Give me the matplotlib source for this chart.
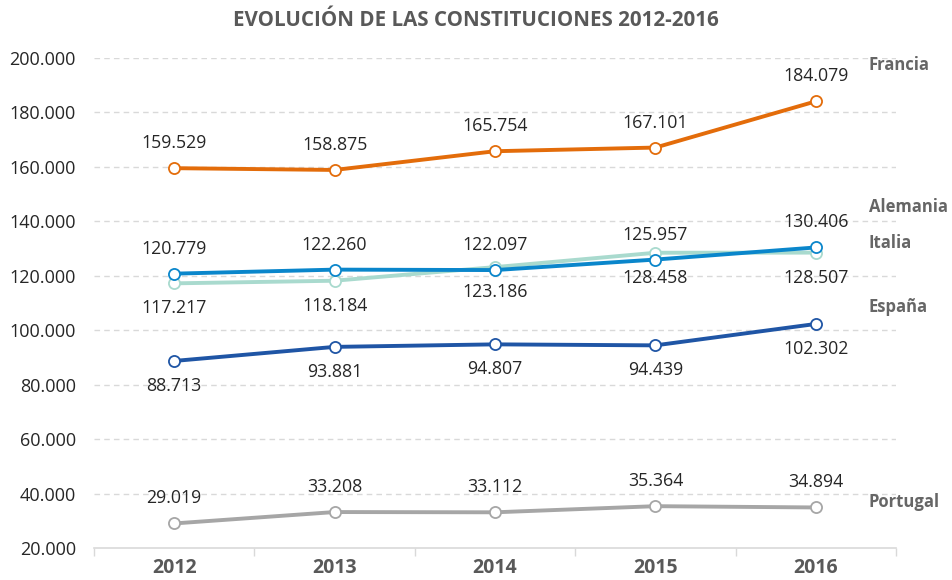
import matplotlib
matplotlib.use("Agg")
import matplotlib.pyplot as plt

plt.rcParams['font.family'] = ['Open Sans', 'DejaVu Sans']

# datos
years = ['2012', '2013', '2014', '2015', '2016']
francia = [159529, 158875, 165754, 167101, 184079]
alemania = [117217, 118184, 123186, 128458, 128507]
italia = [120779, 122260, 122097, 125957, 130406]
espana = [88713, 93881, 94807, 94439, 102302]
portugal = [29019, 33208, 33112, 35364, 34894]
yticks = [20000, 40000, 60000, 80000, 100000, 120000, 140000, 160000, 180000, 200000]


def fmt(v):
    return f"{v:,}".replace(",", ".")


# (nombre, valores, color, posicion etiqueta: arriba +1 / abajo -1, y de la etiqueta derecha)
series = [
    ('Portugal', portugal, '#A6A6A6', 1, 36900),
    ('España', espana, '#1F55A5', -1, 108500),
    ('Alemania', alemania, '#A9DACE', -1, 145300),
    ('Italia', italia, '#0A86CB', 1, 132000),
    ('Francia', francia, '#E36C0A', 1, 197400),
]

fig = plt.figure(figsize=(9.52, 5.8), dpi=100)
ax = fig.add_axes([94 / 952, 1 - 548 / 580, 802 / 952, 490 / 580])

x = list(range(len(years)))
for name, vals, color, side, ylab in series:
    ax.plot(x, vals, color=color, lw=2.8, marker='o', ms=8,
            markerfacecolor='white', markeredgecolor=color, markeredgewidth=1.3,
            zorder=3, solid_capstyle='round')
    for xi, v in zip(x, vals):
        ax.annotate(fmt(v), (xi, v), xytext=(0, 18 * side), textcoords='offset points',
                    ha='center', va='center', fontsize=12.8, color='#262626', zorder=4)
    ax.text(0.966, ylab, name, transform=ax.get_yaxis_transform(), ha='left',
            va='center', fontsize=12, fontweight='bold', color='#666666', clip_on=False)

ax.set_xlim(-0.5, 4.5)
ax.set_ylim(20000, 200000)
ax.set_yticks(yticks)
ax.set_yticklabels([fmt(t) for t in yticks], fontsize=13, color='#262626')
ax.set_xticks(x)
ax.set_xticklabels(years, fontsize=14, fontweight='bold', color='#595959')
ax.set_xticks([i - 0.5 for i in range(len(years) + 1)], minor=True)
ax.tick_params(axis='x', which='major', length=0, pad=7)
ax.tick_params(axis='x', which='minor', length=6, color='#D9D9D9', width=1)
ax.tick_params(axis='y', length=0, pad=13)

for t in yticks[1:]:
    ax.axhline(t, color='#D9D9D9', lw=1, ls=(0, (4, 3)), zorder=1)

for s in ['top', 'right', 'left']:
    ax.spines[s].set_visible(False)
ax.spines['bottom'].set_color('#D9D9D9')
ax.spines['bottom'].set_linewidth(1.2)

fig.text(0.5, 1 - 20 / 580, 'EVOLUCIÓN DE LAS CONSTITUCIONES 2012-2016', ha='center',
         va='center', fontsize=14.8, fontweight='bold', color='#595959')

fig.savefig('out.png', dpi=100)
